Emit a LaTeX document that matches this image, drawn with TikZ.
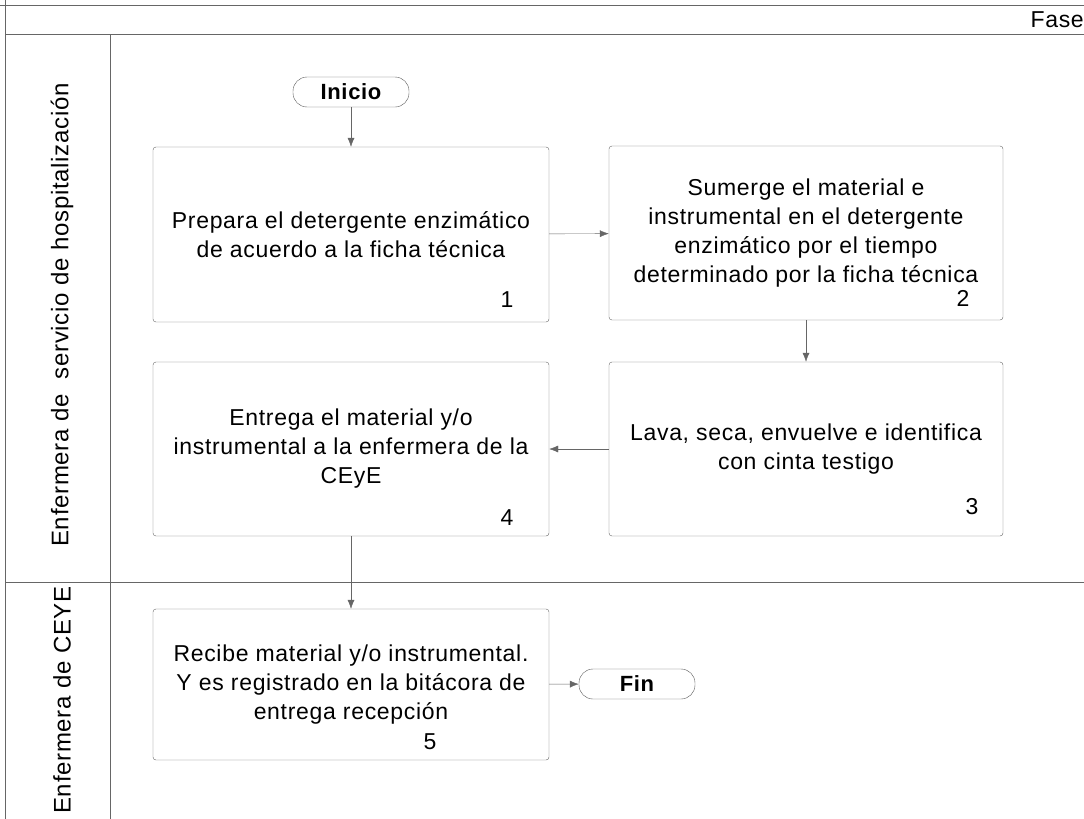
\documentclass[tikz,border=0pt]{standalone}
\usepackage{fontspec}
\setmainfont[LetterSpace=3]{Liberation Sans}
\usetikzlibrary{arrows.meta, positioning}

\begin{document}
\begin{tikzpicture}[x=1pt, y=-1pt,
    lane/.style={black!60, thin},
    carril/.style={rotate=90, inner sep=0pt, font=\fontsize{24}{28}\selectfont},
    paso/.style={draw=black!60, thin, rounded corners=3pt, align=center, inner sep=0pt, font=\fontsize{23}{29}\selectfont},
    term/.style={draw=black!65, thin, rounded corners=14pt, inner sep=0pt, minimum width=116pt, minimum height=30pt, font=\bfseries\fontsize{22}{26}\selectfont},
    num/.style={inner sep=0pt, font=\fontsize{23}{26}\selectfont},
    flecha/.style={black!60, thin, -{Latex[length=9pt,width=7pt]}}]
    \useasboundingbox (0,0) rectangle (1084,819);
    % carriles
    \draw[lane] (0,5) -- (1084,5);
    \draw[lane] (5,0) -- (5,819);
    \draw[lane] (5,34) -- (1084,34);
    \draw[lane] (110,34) -- (110,819);
    \draw[lane] (5,582) -- (1084,582);
    \node[inner sep=0pt, anchor=east, font=\fontsize{23}{28}\selectfont] (fase) at (1084,20) {Fase};
    \node[carril] (hosp) at (62,315) {Enfermera de\ \ servicio de hospitalización};
    \node[carril] (ceye) at (62,700) {Enfermera de CEYE};
    % pasos
    \node[term] (inicio) at (351,92) {Inicio};
    \node[paso, minimum width=396pt, minimum height=175pt] (b1) at (351,234.5) {Prepara el detergente enzimático\\de acuerdo a la ficha técnica};
    \node[paso, minimum width=394pt, minimum height=174pt] (b2) at (806,233) {Sumerge el material e\\instrumental en el detergente\\enzimático por el tiempo\\determinado por la ficha técnica};
    \node[paso, minimum width=394pt, minimum height=174pt] (b3) at (806,449) {Lava, seca, envuelve e identifica\\con cinta testigo};
    \node[paso, minimum width=396pt, minimum height=174pt] (b4) at (351,449) {Entrega el material y/o\\instrumental a la enfermera de la\\CEyE};
    \node[paso, minimum width=396pt, minimum height=151pt] (b5) at (351,684.5) {Recibe material y/o instrumental.\\Y es registrado en la bitácora de\\entrega recepción};
    \node[term] (fin) at (637,684) {Fin};
    \node[num] (n1) at (507,300) {1};
    \node[num] (n2) at (963,298) {2};
    \node[num] (n3) at (972,507) {3};
    \node[num] (n4) at (507,518) {4};
    \node[num] (n5) at (430,742) {5};
    % flechas
    \draw[flecha] (inicio) -- (b1);
    \draw[flecha] (b1) -- (b2);
    \draw[flecha] (b2) -- (b3);
    \draw[flecha] (b3) -- (b4);
    \draw[flecha] (b4) -- (b5);
    \draw[flecha] (b5) -- (fin);
\end{tikzpicture}
\end{document}
